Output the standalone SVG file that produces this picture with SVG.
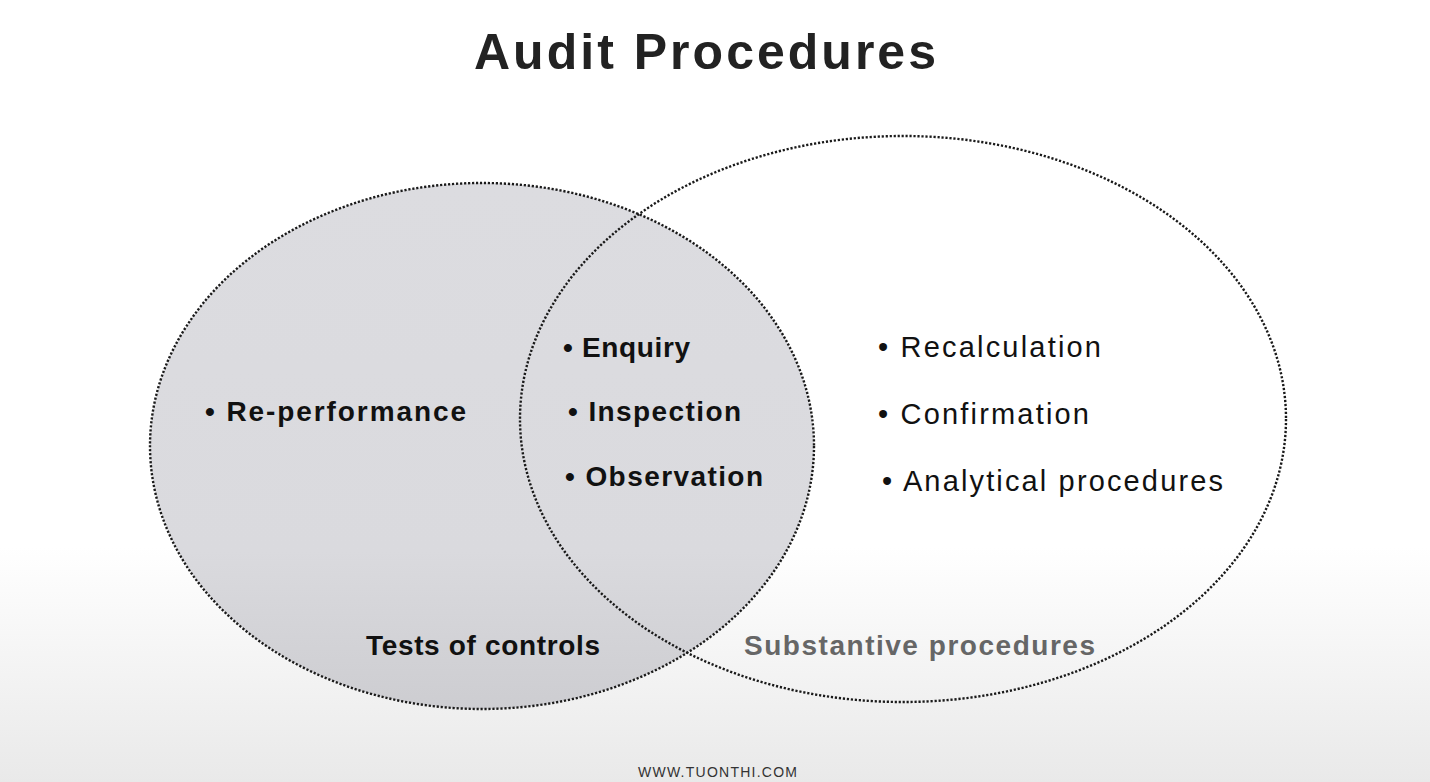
<svg xmlns="http://www.w3.org/2000/svg" width="1430" height="782" viewBox="0 0 1430 782">
<defs>
<linearGradient id="bg" x1="0" y1="0" x2="0" y2="1">
<stop offset="0" stop-color="#ffffff"/>
<stop offset="0.7" stop-color="#ffffff"/>
<stop offset="1" stop-color="#e9e9e9"/>
</linearGradient>
<linearGradient id="lf" x1="0" y1="0" x2="0" y2="1">
<stop offset="0" stop-color="#dcdce0"/>
<stop offset="0.7" stop-color="#dadade"/>
<stop offset="1" stop-color="#cdcdd1"/>
</linearGradient>
</defs>
<style>
.ring{stroke:#1a1a1a;stroke-width:2.4;stroke-dasharray:2.2 1.8}
.b{font-family:"Liberation Sans",Arial,sans-serif;font-weight:bold;fill:#111}
.r{font-family:"Liberation Sans",Arial,sans-serif;fill:#111}
</style>
<rect width="1430" height="782" fill="url(#bg)"/>
<text class="b" x="474" y="69" font-size="50" textLength="462" lengthAdjust="spacing" style="fill:#222">Audit Procedures</text>
<g id="tests-of-controls">
<ellipse class="ring" cx="482" cy="446" rx="332" ry="263" fill="url(#lf)"/>
<text class="b" x="205" y="421" font-size="28" textLength="261" lengthAdjust="spacing">• Re-performance</text>
<text class="b" x="366" y="655" font-size="28" textLength="234" lengthAdjust="spacing">Tests of controls</text>
</g>
<g id="substantive-procedures">
<ellipse class="ring" cx="903" cy="419" rx="383" ry="283" fill="none"/>
<text class="r" x="878" y="357" font-size="29" textLength="223" lengthAdjust="spacing">• Recalculation</text>
<text class="r" x="878" y="424" font-size="29" textLength="211" lengthAdjust="spacing">• Confirmation</text>
<text class="r" x="882" y="491" font-size="29" textLength="341" lengthAdjust="spacing">• Analytical procedures</text>
<text class="b" x="744" y="655" font-size="28" textLength="351" lengthAdjust="spacing" style="fill:#666">Substantive procedures</text>
</g>
<g id="overlap">
<text class="b" x="563" y="357" font-size="28" textLength="127" lengthAdjust="spacing">• Enquiry</text>
<text class="b" x="568" y="421" font-size="28" textLength="173" lengthAdjust="spacing">• Inspection</text>
<text class="b" x="565" y="486" font-size="28" textLength="198" lengthAdjust="spacing">• Observation</text>
</g>
<g id="connectors"/>
<text class="r" x="638" y="777" font-size="14" textLength="159" lengthAdjust="spacing" style="fill:#333">WWW.TUONTHI.COM</text>
</svg>
